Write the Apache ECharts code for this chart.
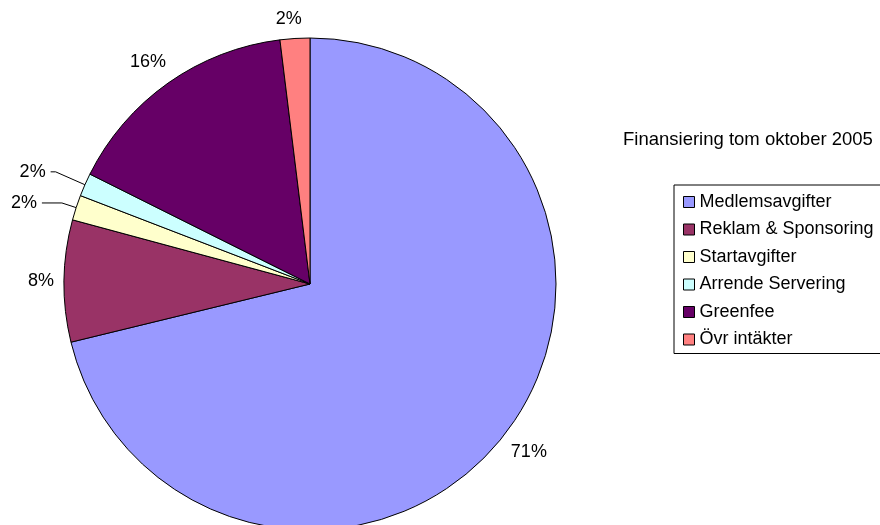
<!DOCTYPE html>
<html>
<head>
<meta charset="utf-8">
<script src="https://cdn.jsdelivr.net/npm/echarts@6/dist/echarts.min.js"></script>
<style>
  html, body { margin: 0; padding: 0; background: #fff; }
  #chart { width: 880px; height: 525px; }
</style>
</head>
<body>
<div id="chart"></div>
<script>
const titleText = 'Finansiering tom oktober 2005';
const categories = ['Medlemsavgifter', 'Reklam & Sponsoring', 'Startavgifter', 'Arrende Servering', 'Greenfee', 'Övr intäkter'];
const shares = [71.2, 8.0, 1.65, 1.52, 15.68, 1.95];
const colors = ['#9999FF', '#993366', '#FFFFCC', '#CCFFFF', '#660066', '#FF8080'];
// label distance from the rim, per slice; the two thin slices get leader lines
const labelLen = [26, 18, 15, 32, 26, 19];
const labelLen2 = [0, 0, 20, 5, 0, 0];
const withLine = [false, false, true, true, false, false];

const font = "'Liberation Sans', Arial, sans-serif";
const chart = echarts.init(document.getElementById('chart'));

const pieData = categories.map((name, i) => ({
  name: name,
  value: shares[i],
  itemStyle: { color: colors[i] },
  labelLine: { show: withLine[i], length: labelLen[i], length2: labelLen2[i] }
}));

chart.setOption({
  animation: false,
  backgroundColor: '#fff',
  title: {
    text: titleText,
    left: 623,
    top: 130,
    padding: 0,
    textStyle: { fontFamily: font, fontSize: 18.5, fontWeight: 'normal', color: '#000' }
  },
  legend: {
    orient: 'vertical',
    left: 674,
    top: 185,
    padding: [8, 9, 5, 9],
    itemGap: 9.5,
    itemWidth: 11,
    itemHeight: 11,
    icon: 'rect',
    borderColor: '#000',
    borderWidth: 1,
    itemStyle: { borderColor: '#000', borderWidth: 1 },
    textStyle: { fontFamily: font, fontSize: 18, color: '#000' },
    data: categories
  },
  series: [{
    type: 'pie',
    center: [310, 284],
    radius: 246,
    startAngle: 90,
    clockwise: true,
    avoidLabelOverlap: false,
    itemStyle: { borderColor: '#000', borderWidth: 1 },
    emphasis: { disabled: true },
    label: {
      show: true,
      position: 'outside',
      distanceToLabelLine: 5,
      fontFamily: font,
      fontSize: 18,
      color: '#000',
      formatter: p => Math.round(p.percent) + '%'
    },
    labelLine: {
      smooth: false,
      lineStyle: { color: '#000', width: 1 }
    },
    labelLayout: function (params) {
      if (withLine[params.dataIndex]) return {};
      return { align: 'center' };
    },
    data: pieData
  }]
});
</script>
</body>
</html>
